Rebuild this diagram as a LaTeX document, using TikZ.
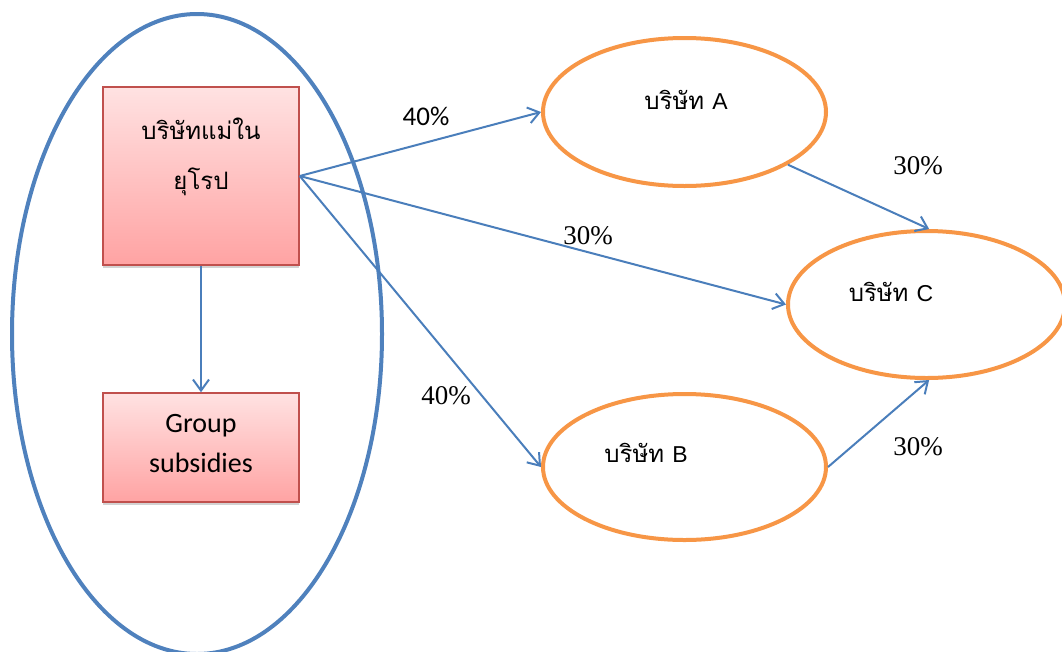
\documentclass[tikz,border=0pt]{standalone}
\usepackage{fontspec}
\setmainfont{Liberation Serif}
\setsansfont{Liberation Sans}
\newfontfamily\thaifont[Script=Thai]{Loma}
\newfontfamily\calibri{Carlito}
\usetikzlibrary{shapes.geometric,arrows.meta,shadows}

\definecolor{groupblue}{HTML}{4F81BD}
\definecolor{flowblue}{HTML}{4A7EBB}
\definecolor{firmorange}{HTML}{F79646}
\definecolor{boxedge}{HTML}{C0504D}
\definecolor{boxtop}{HTML}{FFE2E2}
\definecolor{boxbottom}{HTML}{FFA3A3}

\tikzset{
  redbox/.style={rectangle, draw=boxedge, line width=1.5pt, top color=boxtop,
    bottom color=boxbottom, inner sep=0pt,
    drop shadow={opacity=0.35, shadow xshift=0pt, shadow yshift=-3pt}},
  firm/.style={ellipse, draw=firmorange, line width=4pt, fill=white, inner sep=0pt},
  flow/.style={draw=flowblue, line width=2pt,
    -{Straight Barb[length=11pt,width=16pt,line width=2pt]}},
  thaitext/.style={font=\thaifont\fontsize{24}{28}\selectfont},
  pct/.style={font=\fontsize{27}{30}\selectfont},
}

\begin{document}
\begin{tikzpicture}[x=1pt,y=-1pt]
\useasboundingbox (0,0) rectangle (1062,651);
\clip (0,0) rectangle (1062,651);

% the group boundary
\node[ellipse, draw=groupblue, line width=4pt, minimum width=370pt,
      minimum height=640pt, inner sep=0pt] (grp) at (197,334) {};

% parent company and its subsidiaries
\node[redbox, minimum width=196pt, minimum height=178pt] (parent) at (201,176) {};
\node[thaitext, align=center] (parenttxt) at (201,157)
  {บริษัทแม่ใน\\[22pt]ยุโรป};
\node[redbox, minimum width=196pt, minimum height=109pt] (subs) at (201,447.5) {};
\node[align=center, font=\calibri\fontsize{28}{40}\selectfont] (substxt)
  at (201,444) {Group\\subsidies};

% companies A, B, C
\node[firm, minimum width=283pt, minimum height=148pt] (A) at (684.5,112) {};
\node[firm, minimum width=277pt, minimum height=147pt] (C) at (926.5,304.5) {};
\node[firm, minimum width=283pt, minimum height=146pt] (B) at (684.5,467) {};

\node[thaitext] (Atxt) at (686,100) {บริษัท {\sffamily\fontsize{23}{26}\selectfont A}};
\node[thaitext] (Ctxt) at (891,292) {บริษัท {\sffamily\fontsize{23}{26}\selectfont C}};
\node[thaitext] (Btxt) at (646,453) {บริษัท {\sffamily\fontsize{23}{26}\selectfont B}};

% ownership links
\draw[flow] (parent.south) -- (subs.north);
\draw[flow] (parent.east) -- (A.west);
\draw[flow] (parent.east) -- (C.west);
\draw[flow] (parent.east) -- (B.west);
\draw[flow] (A.-27) -- (C.88);
\draw[flow] (B.east) -- (C.-88);

% shares
\node[pct, font=\calibri\fontsize{27}{30}\selectfont] (pA) at (426,116) {40\%};
\node[pct] (pC) at (588,236) {30\%};
\node[pct] (pB) at (446,396) {40\%};
\node[pct] (pAC) at (918,166) {30\%};
\node[pct] (pBC) at (918,447) {30\%};
\end{tikzpicture}
\end{document}
